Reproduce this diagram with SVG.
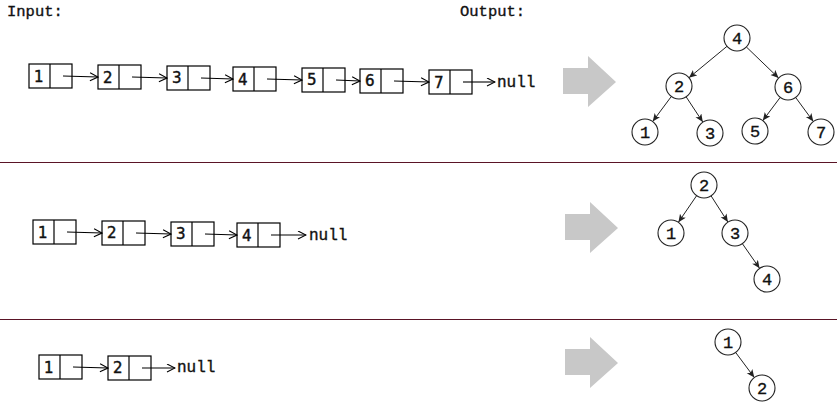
<svg xmlns="http://www.w3.org/2000/svg" width="837" height="410" viewBox="0 0 837 410">
<defs>
<style>
.box{fill:#fff;stroke:#000;stroke-width:1.2}
.div{stroke:#000;stroke-width:1.2}
.num{font-family:"DejaVu Sans",Verdana,sans-serif;font-size:15px;fill:#111;stroke:#111;stroke-width:0.45}
.mono{font-family:"Liberation Mono","Courier New",monospace;fill:#111;stroke:#111;stroke-width:0.35}
.lbl{font-size:15.5px}
.null{font-size:16px}
.tn{font-size:17px;text-anchor:middle}
.circ{fill:#fff;stroke:#222;stroke-width:1.1}
.link{stroke:#000;stroke-width:1.1;fill:none;marker-end:url(#open)}
.edge{stroke:#222;stroke-width:1;fill:none;marker-end:url(#fill)}
.sep{stroke:#5a1426;stroke-width:1}
.big{fill:#c8c8c8}
</style>
<marker id="open" markerWidth="10" markerHeight="10" refX="9" refY="4.5" orient="auto" markerUnits="userSpaceOnUse">
<path d="M1,0.5 L9,4.5 L1,8.5" fill="none" stroke="#000" stroke-width="1.1"/>
</marker>
<marker id="fill" markerWidth="10" markerHeight="8" refX="8" refY="3.5" orient="auto" markerUnits="userSpaceOnUse">
<path d="M0,0 L8,3.5 L0,7 L2,3.5 z" fill="#222"/>
</marker>
<path id="bigarrow" d="M0,12 L25,12 L25,0 L53,26 L25,51 L25,38 L0,38 z"/>
</defs>

<text class="mono lbl" x="7" y="16">Input:</text>
<text class="mono lbl" x="460" y="16">Output:</text>

<line class="sep" x1="0" y1="162.5" x2="837" y2="162.5"/>
<line class="sep" x1="0" y1="319.5" x2="837" y2="319.5"/>

<!-- Row 1 list -->
<g id="r1n1"><rect class="box" x="29" y="64" width="43" height="24"/><line class="div" x1="50" y1="64" x2="50" y2="88"/><text class="num" x="34" y="82">1</text></g>
<g id="r1n2"><rect class="box" x="98" y="65" width="43" height="24"/><line class="div" x1="119" y1="65" x2="119" y2="89"/><text class="num" x="103" y="83">2</text></g>
<g id="r1n3"><rect class="box" x="167" y="66" width="43" height="24"/><line class="div" x1="188" y1="66" x2="188" y2="90"/><text class="num" x="172" y="83">3</text></g>
<g id="r1n4"><rect class="box" x="233" y="67" width="43" height="24"/><line class="div" x1="254" y1="67" x2="254" y2="91"/><text class="num" x="238" y="85">4</text></g>
<g id="r1n5"><rect class="box" x="302" y="68" width="43" height="24"/><line class="div" x1="323" y1="68" x2="323" y2="92"/><text class="num" x="307" y="85">5</text></g>
<g id="r1n6"><rect class="box" x="360" y="69" width="43" height="24"/><line class="div" x1="381" y1="69" x2="381" y2="93"/><text class="num" x="365" y="86">6</text></g>
<g id="r1n7"><rect class="box" x="429" y="70" width="43" height="24"/><line class="div" x1="450" y1="70" x2="450" y2="94"/><text class="num" x="434" y="88">7</text></g>
<text id="r1null" class="mono null" x="497" y="87">null</text>

<!-- Row 2 list -->
<g id="r2n1"><rect class="box" x="33" y="220" width="43" height="24"/><line class="div" x1="54" y1="220" x2="54" y2="244"/><text class="num" x="38" y="238">1</text></g>
<g id="r2n2"><rect class="box" x="102" y="221" width="43" height="24"/><line class="div" x1="123" y1="221" x2="123" y2="245"/><text class="num" x="107" y="238">2</text></g>
<g id="r2n3"><rect class="box" x="171" y="222" width="43" height="24"/><line class="div" x1="192" y1="222" x2="192" y2="246"/><text class="num" x="176" y="239">3</text></g>
<g id="r2n4"><rect class="box" x="237" y="223" width="43" height="24"/><line class="div" x1="258" y1="223" x2="258" y2="247"/><text class="num" x="242" y="241">4</text></g>
<text id="r2null" class="mono null" x="309" y="240">null</text>

<!-- Row 3 list -->
<g id="r3n1"><rect class="box" x="39" y="355" width="43" height="24"/><line class="div" x1="60" y1="355" x2="60" y2="379"/><text class="num" x="44" y="373">1</text></g>
<g id="r3n2"><rect class="box" x="108" y="356" width="43" height="24"/><line class="div" x1="129" y1="356" x2="129" y2="380"/><text class="num" x="113" y="373">2</text></g>
<text id="r3null" class="mono null" x="177" y="372">null</text>

<!-- Big arrows -->
<g id="bigarrow1" class="big"><use href="#bigarrow" x="563" y="56"/></g>
<g id="bigarrow2" class="big"><use href="#bigarrow" x="565" y="202"/></g>
<g id="bigarrow3" class="big"><use href="#bigarrow" x="565" y="337"/></g>

<!-- Connectors -->
<g id="connectors">
<line class="link" x1="63" y1="76" x2="98" y2="77"/>
<line class="link" x1="132" y1="77" x2="167" y2="78"/>
<line class="link" x1="201" y1="78" x2="233" y2="79"/>
<line class="link" x1="267" y1="79" x2="302" y2="80"/>
<line class="link" x1="336" y1="80" x2="360" y2="81"/>
<line class="link" x1="394" y1="81" x2="429" y2="82"/>
<line class="link" x1="463" y1="82" x2="495" y2="82"/>

<line class="link" x1="67" y1="232" x2="102" y2="233"/>
<line class="link" x1="136" y1="233" x2="171" y2="234"/>
<line class="link" x1="205" y1="234" x2="237" y2="235"/>
<line class="link" x1="271" y1="235" x2="306" y2="235"/>

<line class="link" x1="73" y1="367" x2="108" y2="368"/>
<line class="link" x1="142" y1="368" x2="175" y2="368"/>

<line class="edge" x1="727" y1="46.3" x2="689" y2="77.7"/>
<line class="edge" x1="746.4" y1="47" x2="778.6" y2="78"/>
<line class="edge" x1="671.3" y1="96.5" x2="652.7" y2="121.5"/>
<line class="edge" x1="686.2" y1="96.9" x2="702.8" y2="122.1"/>
<line class="edge" x1="780.2" y1="97.4" x2="762.8" y2="120.6"/>
<line class="edge" x1="795.7" y1="97.5" x2="813.3" y2="121.5"/>

<line class="edge" x1="696.6" y1="195.7" x2="678.4" y2="222.3"/>
<line class="edge" x1="711.1" y1="195.9" x2="727.9" y2="222.1"/>
<line class="edge" x1="742.4" y1="243.7" x2="759.6" y2="268.3"/>

<line class="edge" x1="735.7" y1="352.5" x2="754.3" y2="377.5"/>
</g>

<!-- Tree 1 -->
<g id="t1n4"><circle class="circ" cx="737" cy="38" r="13"/><text class="mono tn" x="737" y="44">4</text></g>
<g id="t1n2"><circle class="circ" cx="679" cy="86" r="13"/><text class="mono tn" x="679" y="92">2</text></g>
<g id="t1n6"><circle class="circ" cx="788" cy="87" r="13"/><text class="mono tn" x="788" y="93">6</text></g>
<g id="t1n1"><circle class="circ" cx="645" cy="132" r="13"/><text class="mono tn" x="645" y="138">1</text></g>
<g id="t1n3"><circle class="circ" cx="710" cy="133" r="13"/><text class="mono tn" x="710" y="139">3</text></g>
<g id="t1n5"><circle class="circ" cx="755" cy="131" r="13"/><text class="mono tn" x="755" y="137">5</text></g>
<g id="t1n7"><circle class="circ" cx="821" cy="132" r="13"/><text class="mono tn" x="821" y="138">7</text></g>

<!-- Tree 2 -->
<g id="t2n2"><circle class="circ" cx="704" cy="185" r="13"/><text class="mono tn" x="704" y="191">2</text></g>
<g id="t2n1"><circle class="circ" cx="671" cy="233" r="13"/><text class="mono tn" x="671" y="239">1</text></g>
<g id="t2n3"><circle class="circ" cx="735" cy="233" r="13"/><text class="mono tn" x="735" y="239">3</text></g>
<g id="t2n4"><circle class="circ" cx="767" cy="279" r="13"/><text class="mono tn" x="767" y="285">4</text></g>

<!-- Tree 3 -->
<g id="t3n1"><circle class="circ" cx="728" cy="342" r="13"/><text class="mono tn" x="728" y="348">1</text></g>
<g id="t3n2"><circle class="circ" cx="762" cy="388" r="13"/><text class="mono tn" x="762" y="394">2</text></g>
</svg>
